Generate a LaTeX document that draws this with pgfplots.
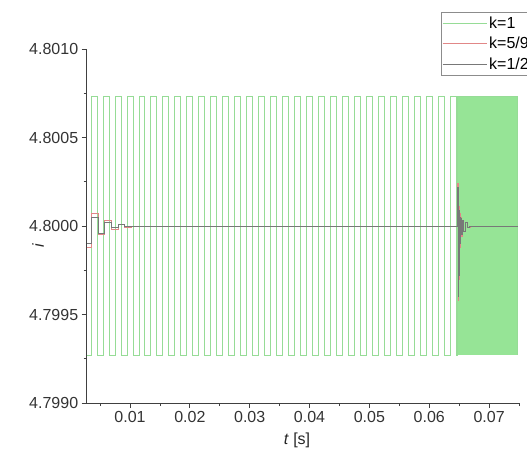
\documentclass[border=0pt]{standalone}
\usepackage{pgfplots}
\pgfplotsset{compat=1.18}
\usepackage{fontspec}
\setmainfont{Liberation Sans}

\definecolor{kone}{RGB}{150,220,150}
\definecolor{kfill}{RGB}{150,228,150}
\definecolor{kfive}{RGB}{225,135,135}
\definecolor{khalf}{RGB}{120,120,120}

\newcommand{\lblfont}{\fontsize{16}{19}\selectfont}

\begin{document}
\begin{tikzpicture}
\begin{axis}[
    scale only axis,
    width=432.3pt, height=354pt,
    xmin=0.00276, xmax=0.075,
    ymin=4.799, ymax=4.801,
    axis lines*=left,
    axis line style={line width=1pt, black!75},
    tick align=outside,
    major tick length=5pt,
    minor tick length=3pt,
    every tick/.style={black!75, line width=0.8pt},
    xtick={0.01,0.02,0.03,0.04,0.05,0.06,0.07},
    minor xtick={0.005,0.015,0.025,0.035,0.045,0.055,0.065,0.075},
    ytick={4.799,4.7995,4.8,4.8005,4.801},
    minor ytick={4.79925,4.79975,4.80025,4.80075},
    scaled x ticks=false, scaled y ticks=false,
    xticklabel style={/pgf/number format/.cd, fixed, fixed zerofill, precision=2},
    yticklabel style={/pgf/number format/.cd, fixed, fixed zerofill, precision=4},
    /pgf/number format/assume math mode=true,
    tick label style={font=\lblfont, text=black!80},
    xlabel={\textit{t} [s]},
    ylabel={\textit{i}},
    label style={font=\lblfont, text=black!85},
    xlabel style={at={(axis description cs:0.4865,-0.1045)}, anchor=center},
    ylabel style={at={(axis description cs:-0.1127,0.446)}, anchor=center},
    legend style={at={(0.8196,1.1045)}, anchor=north west, draw=black!45,
        font=\lblfont, inner xsep=1pt, inner ysep=2.5pt, row sep=3.5pt},
    legend cell align=left,
    legend image code/.code={\path (0pt,0pt) -- (44pt,0pt);
        \draw[#1] (2pt,0pt) -- (42pt,0pt);},
]

% fast switching part of k=1 (looks solid)
\addplot[draw=none, fill=kfill, forget plot] coordinates {
    (0.0648,4.79927) (0.0748,4.79927) (0.0748,4.80073) (0.0648,4.80073)
};

% k=1
\addplot[kone, line width=1pt] coordinates {
    (0.00276,4.79927)
    (0.0035,4.79927) (0.0035,4.80073) (0.0045,4.80073) (0.0045,4.79927)
    (0.0055,4.79927) (0.0055,4.80073) (0.0065,4.80073) (0.0065,4.79927)
    (0.0075,4.79927) (0.0075,4.80073) (0.0085,4.80073) (0.0085,4.79927)
    (0.0095,4.79927) (0.0095,4.80073) (0.0105,4.80073) (0.0105,4.79927)
    (0.0115,4.79927) (0.0115,4.80073) (0.0125,4.80073) (0.0125,4.79927)
    (0.0135,4.79927) (0.0135,4.80073) (0.0145,4.80073) (0.0145,4.79927)
    (0.0155,4.79927) (0.0155,4.80073) (0.0165,4.80073) (0.0165,4.79927)
    (0.0175,4.79927) (0.0175,4.80073) (0.0185,4.80073) (0.0185,4.79927)
    (0.0195,4.79927) (0.0195,4.80073) (0.0205,4.80073) (0.0205,4.79927)
    (0.0215,4.79927) (0.0215,4.80073) (0.0225,4.80073) (0.0225,4.79927)
    (0.0235,4.79927) (0.0235,4.80073) (0.0245,4.80073) (0.0245,4.79927)
    (0.0255,4.79927) (0.0255,4.80073) (0.0265,4.80073) (0.0265,4.79927)
    (0.0275,4.79927) (0.0275,4.80073) (0.0285,4.80073) (0.0285,4.79927)
    (0.0295,4.79927) (0.0295,4.80073) (0.0305,4.80073) (0.0305,4.79927)
    (0.0315,4.79927) (0.0315,4.80073) (0.0325,4.80073) (0.0325,4.79927)
    (0.0335,4.79927) (0.0335,4.80073) (0.0345,4.80073) (0.0345,4.79927)
    (0.0355,4.79927) (0.0355,4.80073) (0.0365,4.80073) (0.0365,4.79927)
    (0.0375,4.79927) (0.0375,4.80073) (0.0385,4.80073) (0.0385,4.79927)
    (0.0395,4.79927) (0.0395,4.80073) (0.0405,4.80073) (0.0405,4.79927)
    (0.0415,4.79927) (0.0415,4.80073) (0.0425,4.80073) (0.0425,4.79927)
    (0.0435,4.79927) (0.0435,4.80073) (0.0445,4.80073) (0.0445,4.79927)
    (0.0455,4.79927) (0.0455,4.80073) (0.0465,4.80073) (0.0465,4.79927)
    (0.0475,4.79927) (0.0475,4.80073) (0.0485,4.80073) (0.0485,4.79927)
    (0.0495,4.79927) (0.0495,4.80073) (0.0505,4.80073) (0.0505,4.79927)
    (0.0515,4.79927) (0.0515,4.80073) (0.0525,4.80073) (0.0525,4.79927)
    (0.0535,4.79927) (0.0535,4.80073) (0.0545,4.80073) (0.0545,4.79927)
    (0.0555,4.79927) (0.0555,4.80073) (0.0565,4.80073) (0.0565,4.79927)
    (0.0575,4.79927) (0.0575,4.80073) (0.0585,4.80073) (0.0585,4.79927)
    (0.0595,4.79927) (0.0595,4.80073) (0.0605,4.80073) (0.0605,4.79927)
    (0.0615,4.79927) (0.0615,4.80073) (0.0625,4.80073) (0.0625,4.79927)
    (0.0635,4.79927) (0.0635,4.80073) (0.0645,4.80073) (0.0645,4.79927)
    (0.0648,4.79927) (0.0648,4.80073) (0.0748,4.80073) (0.0748,4.79927)
};
\addlegendentry{k=1}

% k=5/9
\addplot[kfive, line width=1pt] coordinates {
    (0.00276,4.79988) (0.0036,4.79988) (0.0036,4.80007) (0.0047,4.80007)
    (0.0047,4.79995) (0.0058,4.79995) (0.0058,4.80003) (0.0069,4.80003)
    (0.0069,4.79998) (0.0080,4.79998) (0.0080,4.80001) (0.0091,4.80001)
    (0.0091,4.79999) (0.0102,4.79999) (0.0102,4.8) (0.0648,4.8)
    (0.0648,4.80024) (0.06485,4.80024) (0.06485,4.79958) (0.0649,4.79958)
    (0.0649,4.80016) (0.06495,4.80016) (0.06495,4.79970) (0.0650,4.79970)
    (0.0650,4.80011) (0.06505,4.80011) (0.06505,4.79980) (0.0651,4.79980)
    (0.0651,4.80007) (0.0652,4.80007) (0.0652,4.79988) (0.0653,4.79988)
    (0.0653,4.80005) (0.0654,4.80005) (0.0654,4.79994) (0.0656,4.79994)
    (0.0656,4.80003) (0.0658,4.80003) (0.0658,4.79997) (0.0661,4.79997)
    (0.0661,4.80002) (0.0664,4.80002) (0.0664,4.79999) (0.0669,4.79999)
    (0.0669,4.8) (0.0748,4.8)
};
\addlegendentry{k=5/9}

% k=1/2
\addplot[khalf, line width=1pt] coordinates {
    (0.00276,4.79990) (0.0036,4.79990) (0.0036,4.80005) (0.0047,4.80005)
    (0.0047,4.79996) (0.0058,4.79996) (0.0058,4.80002) (0.0069,4.80002)
    (0.0069,4.79999) (0.0080,4.79999) (0.0080,4.80001) (0.0091,4.80001)
    (0.0091,4.8) (0.0648,4.8)
    (0.0648,4.80022) (0.06485,4.80022) (0.06485,4.79960) (0.0649,4.79960)
    (0.0649,4.80014) (0.06495,4.80014) (0.06495,4.79972) (0.0650,4.79972)
    (0.0650,4.80009) (0.06505,4.80009) (0.06505,4.79982) (0.0651,4.79982)
    (0.0651,4.80005) (0.0652,4.80005) (0.0652,4.79990) (0.0653,4.79990)
    (0.0653,4.80004) (0.0654,4.80004) (0.0654,4.79995) (0.0656,4.79995)
    (0.0656,4.80003) (0.0658,4.80003) (0.0658,4.79997) (0.0661,4.79997)
    (0.0661,4.80002) (0.0664,4.80002) (0.0664,4.79999) (0.0668,4.79999)
    (0.0668,4.8) (0.0748,4.8)
};
\addlegendentry{k=1/2}

\end{axis}
\pgfresetboundingbox
\path (-86.7pt,-53pt) rectangle (440.3pt,403pt);
\end{tikzpicture}
\end{document}
